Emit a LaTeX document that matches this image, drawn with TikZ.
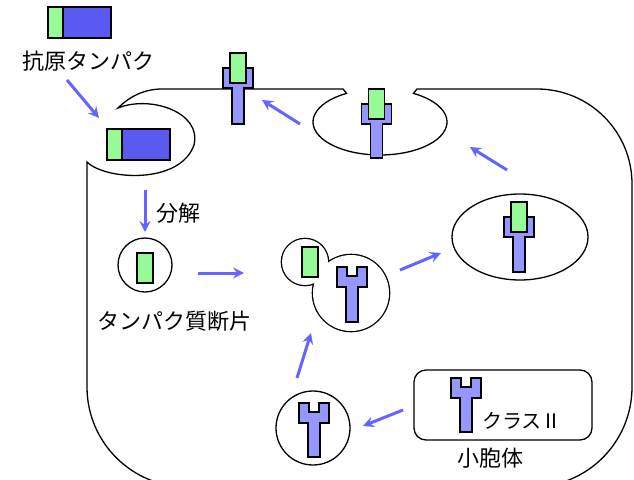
\documentclass[tikz,border=0pt]{standalone}
\usepackage{fontspec}
\setmainfont{Noto Sans CJK JP}
\usetikzlibrary{arrows.meta,shapes.geometric}
\definecolor{antigen}{RGB}{90,90,240}
\definecolor{peptide}{RGB}{150,250,150}
\definecolor{mhc}{RGB}{150,150,255}
\definecolor{flowblue}{RGB}{100,100,255}
\tikzset{
  membrane/.style={line width=1.3pt},
  vesicle/.style={draw, line width=1.3pt, inner sep=0pt},
  part/.style={draw, line width=1.2pt},
  flow/.style={flowblue, line width=3pt, -{Stealth[length=11pt,width=11pt,inset=4pt]}},
  lbl/.style={font=\fontsize{22}{22}\selectfont, inner sep=0pt},
}
% class II molecule, top centre at (#1,#2), #3 = full height
\newcommand{\classtwo}[3]{%
  \draw[part, fill=mhc] (#1-15,#2) -- (#1-5,#2) -- (#1-5,#2+9) -- (#1+5,#2+9)
    -- (#1+5,#2) -- (#1+15,#2) -- (#1+15,#2+20) -- (#1+6,#2+20) -- (#1+6,#2+#3)
    -- (#1-6,#2+#3) -- (#1-6,#2+20) -- (#1-15,#2+20) -- cycle;}
% peptide fragment centred at (#1,#2)
\newcommand{\peptide}[2]{%
  \draw[part, fill=peptide] (#1-8,#2-15) rectangle (#1+8,#2+15);}
% whole antigen, top left at (#1,#2)
\newcommand{\antigenbar}[2]{%
  \draw[part, fill=peptide] (#1,#2) rectangle (#1+15,#2+31);
  \draw[part, fill=antigen] (#1+15,#2) rectangle (#1+63,#2+31);}
\begin{document}
\begin{tikzpicture}[x=1pt,y=-1pt]
\useasboundingbox (0,0) rectangle (634,479);
\clip (0,0) rectangle (634,479);

% cell
\draw[membrane] (632,184) -- (632,387) arc[start angle=0,end angle=90,radius=100]
  -- (187,487) arc[start angle=90,end angle=180,radius=100]
  -- (87,162) .. controls (105,180) and (180,185) .. (194,145)
  .. controls (202,112) and (150,95) .. (118,108)
  .. controls (130,96) and (145,89) .. (162,89)
  -- (343,89) -- (346.5,93.4) arc[start angle=240,end angle=-60,x radius=67,y radius=33]
  -- (417,89) -- (537,89) arc[start angle=270,end angle=360,radius=95] -- cycle;

% vesicles
\node[vesicle, circle, minimum size=54pt] (frag) at (145,265) {};
\draw[line width=2.6pt] (305,262) circle[radius=23] (351,293) circle[radius=38];
\fill[white] (305,262) circle[radius=23] (351,293) circle[radius=38];
\node[vesicle, ellipse, minimum width=136pt, minimum height=86pt] (vesR) at (520,237) {};
\node[vesicle, circle, minimum size=74pt] (vesB) at (313,428) {};
\node[vesicle, rounded corners=12pt, minimum width=178pt, minimum height=70pt] (er) at (503,405) {};

% antigen and fragments
\antigenbar{48}{7}
\antigenbar{107}{129}
\peptide{145}{268}
\peptide{310}{262}

% class II molecules
\classtwo{352}{267}{55}
\classtwo{314}{403}{54}
\classtwo{466}{378}{54}
\classtwo{519}{217}{55}
\peptide{519}{217}
\classtwo{376.5}{104}{54}
\peptide{376.5}{104}
\classtwo{238}{68}{56}
\peptide{238}{68}

% labels
\node[lbl] (antigenlbl) at (88,61) {抗原タンパク};
\node[lbl] (bunkai) at (178,213) {分解};
\node[lbl] (fraglbl) at (174,321) {タンパク質断片};
\node[lbl, anchor=west, font=\fontsize{20}{20}\selectfont] (classlbl) at (482,421) {クラスⅡ};
\node[lbl] (erlbl) at (490,458) {小胞体};

% transport
\coordinate (a1) at (67,80);   \coordinate (b1) at (99,118);
\coordinate (a2) at (145,190); \coordinate (b2) at (145,232);
\coordinate (a3) at (198,273); \coordinate (b3) at (244,273);
\coordinate (a4) at (403,410); \coordinate (b4) at (363,426);
\coordinate (a5) at (297,378); \coordinate (b5) at (311,333);
\coordinate (a6) at (400,270); \coordinate (b6) at (441,253);
\coordinate (a7) at (507,170); \coordinate (b7) at (470,147);
\coordinate (a8) at (300,124); \coordinate (b8) at (262,100);
\foreach \i in {1,...,8}
  \draw[flow] (a\i) -- (b\i);
\end{tikzpicture}
\end{document}
